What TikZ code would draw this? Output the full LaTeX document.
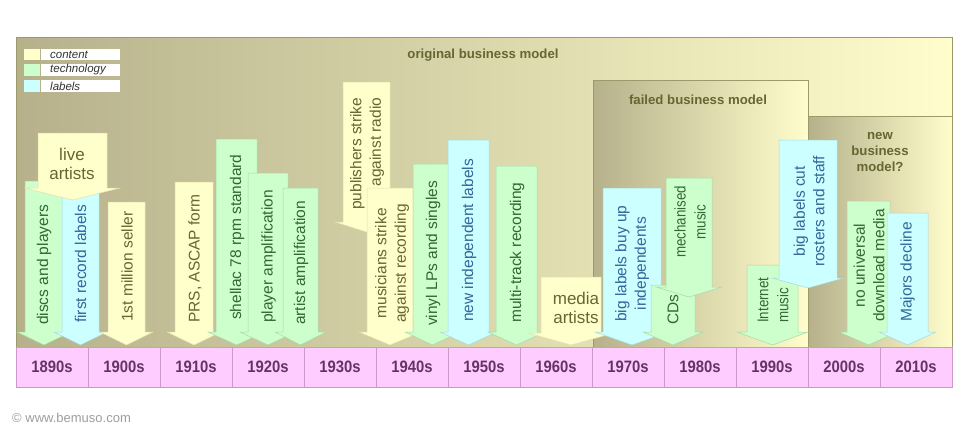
\documentclass[tikz,border=0pt]{standalone}
\usepackage{fontspec}
\setmainfont{Liberation Sans}
\newfontfamily\narrowfont[FakeStretch=0.86]{Liberation Sans}
\definecolor{cy}{HTML}{FFFFCC}
\definecolor{cg}{HTML}{CCFFCC}
\definecolor{cb}{HTML}{CCFFFF}
\definecolor{ty}{HTML}{666633}
\definecolor{tg}{HTML}{336633}
\definecolor{tb}{HTML}{336699}
\definecolor{oy}{HTML}{E2E2AE}
\definecolor{og}{HTML}{A8D8A8}
\definecolor{ob}{HTML}{A8D8D8}
\definecolor{pl}{HTML}{B6B18B}
\definecolor{pm}{HTML}{E6E3B6}
\definecolor{pr}{HTML}{FFFDCC}
\definecolor{frame}{HTML}{9C9A6A}
\definecolor{pink}{HTML}{FFCCFF}
\definecolor{pinkline}{HTML}{CC99CC}
\definecolor{decade}{HTML}{663366}
\definecolor{hdr}{HTML}{666633}
\newcommand\darrow[8]{%
  \pgfmathsetmacro\xm{(#2+#3)/2}%
  \pgfmathsetmacro\yh{#5-#7}%
  \pgfmathsetmacro\xl{#2-#6}%
  \pgfmathsetmacro\xr{#3+#6}%
  \draw[#8] (#2,#4) -- (#3,#4) -- (#3,\yh) -- (\xr,\yh) -- (\xm,#5) -- (\xl,\yh) -- (#2,\yh) -- cycle;
  \coordinate (#1) at (\xm,#4);
}
\tikzset{
  yarrow/.style={fill=cy,draw=oy,line width=0.5pt},
  garrow/.style={fill=cg,draw=og,line width=0.5pt},
  barrow/.style={fill=cb,draw=ob,line width=0.5pt},
  atext/.style={font=\fontsize{15.5}{19.5}\selectfont, align=center, inner sep=0pt},
  narrow/.style={font=\fontsize{15.5}{20}\narrowfont},
  big/.style={font=\fontsize{17}{19}\selectfont},
  ytext/.style={atext,text=ty},
  gtext/.style={atext,text=tg},
  btext/.style={atext,text=tb},
  up/.style={rotate=90,anchor=west},
  hdrtext/.style={font=\fontsize{13.2}{16}\bfseries\selectfont, text=hdr, align=center, inner sep=0pt},
  decadetext/.style={font=\fontsize{16.5}{18}\bfseries\selectfont, text=decade, xscale=0.9, inner sep=0pt},
  legtext/.style={font=\fontsize{11.5}{12}\itshape\selectfont, text=black!80, anchor=west, inner sep=0pt},
}
\begin{document}
\begin{tikzpicture}[x=1pt,y=-1pt]
\useasboundingbox (0,0) rectangle (960,432);
\fill[white] (0,0) rectangle (960,432);
% main panel
\draw[frame, line width=0.8pt, left color=pl, middle color=pm, right color=pr] (16,37) rectangle (952,347);
\node[hdrtext] (orig) at (483,55) {original business model};
% failed box
\draw[frame, line width=0.8pt, left color=pl, middle color=pm!90!pl, right color=pr] (593,80) rectangle (808,347);
\node[hdrtext] (failed) at (698,100) {failed business model};
% new box
\draw[frame, line width=0.8pt, left color=pl, middle color=pm, right color=pr] (808,116) rectangle (952,347);
\node[hdrtext] (newbm) at (880,152) {new\\business\\model?};
% legend
\fill[cy] (24,49) rectangle (40,60);
\fill[white] (41,49) rectangle (120,60);
\fill[cg] (24,64) rectangle (40,76);
\fill[white] (41,64) rectangle (120,76);
\fill[cb] (24,80) rectangle (40,92);
\fill[white] (41,80) rectangle (120,92);
\node[legtext] (lc) at (50,54.5) {content};
\node[legtext] (lt) at (50,70) {technology};
\node[legtext] (ll) at (50,86) {labels};
% arrows
\darrow{a1}{25}{63}{181}{345}{8}{13}{garrow}
\node[gtext,up] (t1) at (44,325) {discs and players};
\darrow{a2}{62}{99}{185}{345}{8}{13}{barrow}
\node[btext,up] (t2) at (80.5,323) {first record labels};
\darrow{a3}{38}{107}{133}{200}{13}{12}{yarrow}
\node[ytext,big] (t3) at (72,164) {live\\artists};
\darrow{a4}{108}{145}{202}{345}{8}{13}{yarrow}
\node[ytext,up] (t4) at (127,322) {1st million seller};
\darrow{a5}{175}{213}{182}{345}{8}{13}{yarrow}
\node[ytext,up] (t5) at (195,323) {PRS, ASCAP form};
\darrow{a6}{216}{257}{139}{345}{8}{13}{garrow}
\node[gtext,up] (t6) at (237,320) {shellac 78 rpm standard};
\darrow{a7}{248}{288}{173}{345}{8}{13}{garrow}
\node[gtext,up] (t7) at (268.5,323) {player amplification};
\darrow{a8}{283}{318}{188}{345}{8}{13}{garrow}
\node[gtext,up] (t8) at (301,325) {artist amplification};
\darrow{a9}{343}{390}{82}{232}{8}{10}{yarrow}
\node[ytext,up,align=right] (t9) at (367,210) {publishers strike\\against radio};
\darrow{a10}{367}{413}{188}{345}{8}{13}{yarrow}
\node[ytext,up] (t10) at (392,323) {musicians strike\\against recording};
\darrow{a11}{413}{452}{164}{345}{8}{13}{garrow}
\node[gtext,up] (t11) at (433,326) {vinyl LPs and singles};
\darrow{a12}{448}{489}{140}{345}{8}{13}{barrow}
\node[btext,up] (t12) at (469,322) {new independent labels};
\darrow{a13}{496}{537}{166}{345}{8}{13}{garrow}
\node[gtext,up] (t13) at (517,323) {multi-track recording};
\darrow{a14}{541}{601}{277}{345}{13}{12}{yarrow}
\node[ytext,big] (t14) at (576,308) {media\\artists};
\darrow{a15}{603}{661}{188}{345}{8}{13}{barrow}
\node[btext,up] (t15) at (632,322) {big labels buy up\\independents};
\darrow{a16}{651}{695}{285}{345}{8}{13}{garrow}
\node[gtext,up] (t16) at (673,325) {CDs};
\darrow{a17}{666}{712}{178}{297}{10}{10}{garrow}
\node[gtext,narrow,rotate=90] (t17) at (690,222) {mechanised\\music};
\darrow{a18}{747}{798}{265}{345}{10}{13}{garrow}
\node[gtext,narrow,up,align=left] (t18) at (773,323) {Internet\\music};
\darrow{a19}{779}{837}{140}{288}{7}{10}{barrow}
\node[btext,up] (t19) at (809,267) {big labels cut\\rosters and staff};
\darrow{a20}{847}{890}{201}{345}{8}{13}{garrow}
\node[gtext,up] (t20) at (869,322) {no universal\\download media};
\darrow{a21}{887}{928}{213}{345}{8}{13}{barrow}
\node[btext,up] (t21) at (907.5,322) {Majors decline};
% decade bar
\draw[pinkline, fill=pink, line width=0.8pt] (16,347) rectangle (952,387);
\foreach \i in {1,...,12} {
  \draw[pinkline, line width=0.6pt] (16+72*\i,347) -- (16+72*\i,387);
}
\foreach \lab [count=\i from 0] in {1890s,1900s,1910s,1920s,1930s,1940s,1950s,1960s,1970s,1980s,1990s,2000s,2010s} {
  \node[decadetext] (d\i) at (52+72*\i,367) {\lab};
}
\node[font=\fontsize{13}{15}\selectfont, text=black!38, anchor=west, inner sep=0pt] (copy) at (12,418) {© www.bemuso.com};
\end{tikzpicture}
\end{document}
